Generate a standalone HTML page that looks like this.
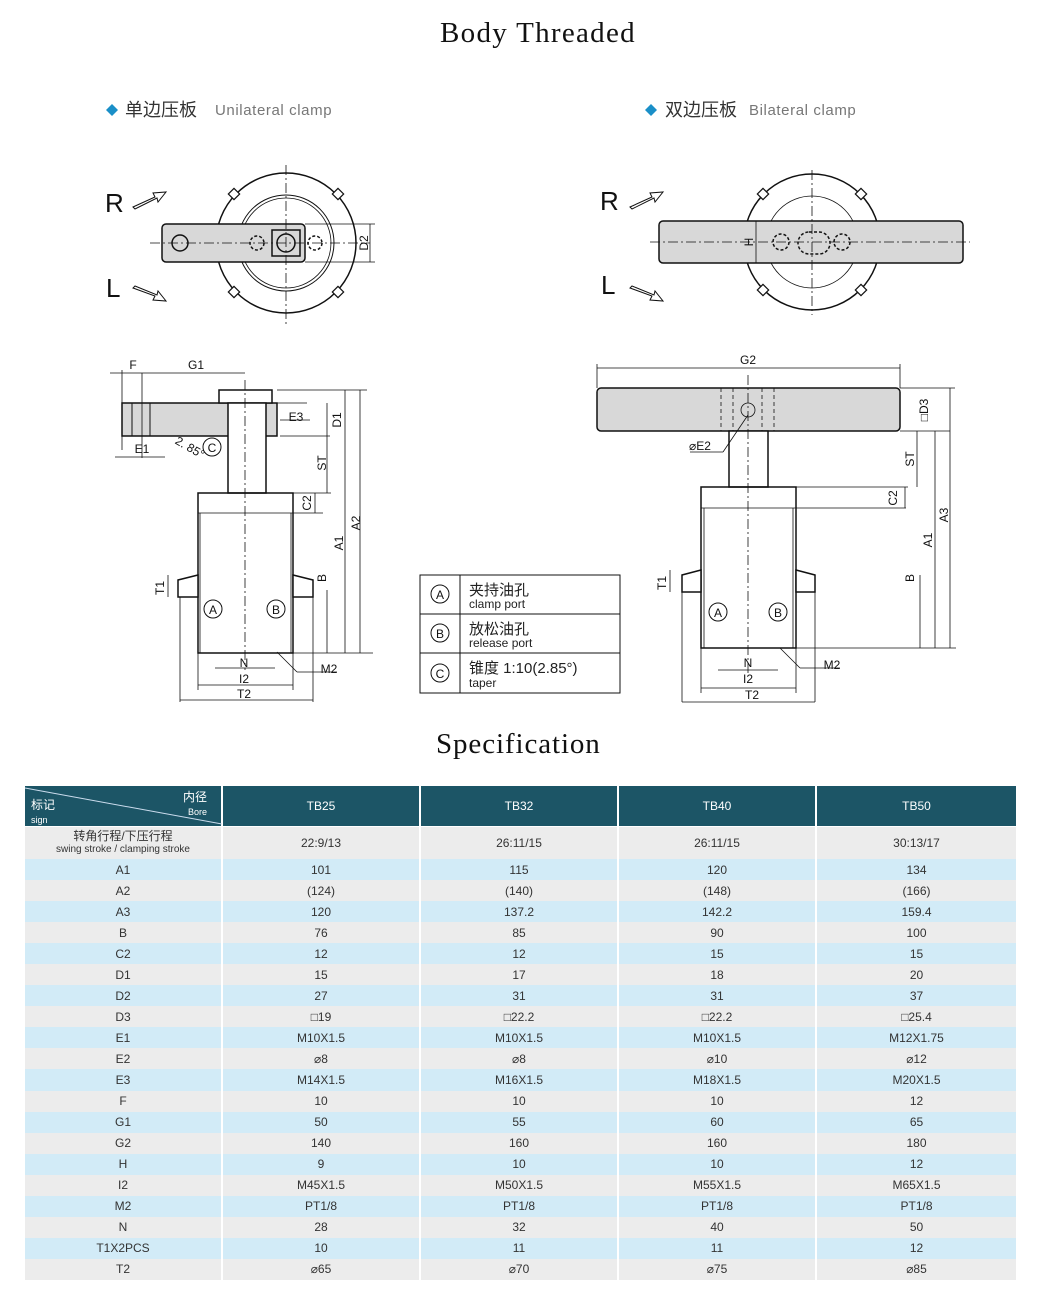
<!DOCTYPE html>
<html><head><meta charset="utf-8"><style>
body{margin:0;width:1039px;height:1297px;background:#fff;position:relative;font-family:"Liberation Sans","Noto Sans CJK SC",sans-serif;overflow:hidden}
.t{position:absolute;font-family:"Liberation Serif",serif;font-size:29px;color:#111}
table{position:absolute;left:23px;top:786px;border-collapse:collapse;table-layout:fixed;width:993px}
td{text-align:center;font-size:12px;color:#333;padding:0;border-left:2px solid #fff;border-right:2px solid #fff;height:21.05px;line-height:20px}
tr.h td{background:#1c5566;color:#fff;height:40px;font-size:12px;border-bottom:1px solid #fff}
tr.b td{background:#d2ebf7}
tr.g td{background:#ececec}
</style></head><body>
<div class="t" style="left:440px;top:17px;letter-spacing:1.3px">Body Threaded</div>
<div class="t" style="left:436px;top:728px;letter-spacing:0.9px">Specification</div>
<svg width="1039" height="780" style="position:absolute;left:0;top:0" font-family="Liberation Sans,Noto Sans CJK SC,sans-serif">
<g font-size="18" fill="#333">
<path d="M106 110l6-6 6 6-6 6z" fill="#1a8fc8"/><text x="125" y="116">单边压板</text><text x="215" y="115" font-size="15" fill="#777" letter-spacing="0.6">Unilateral clamp</text>
<path d="M645 110l6-6 6 6-6 6z" fill="#1a8fc8"/><text x="665" y="116">双边压板</text><text x="749" y="115" font-size="15" fill="#777" letter-spacing="0.6">Bilateral clamp</text>
</g>
<g stroke="#111" stroke-width="1.5" fill="none">
<circle cx="286" cy="243" r="70"/>
<g fill="#fff" stroke-width="1.2"><rect x="230" y="190" width="8" height="8" transform="rotate(45 234 194)"/><rect x="334" y="190" width="8" height="8" transform="rotate(45 338 194)"/><rect x="230" y="288" width="8" height="8" transform="rotate(45 234 292)"/><rect x="334" y="288" width="8" height="8" transform="rotate(45 338 292)"/></g>
<circle cx="286" cy="243" r="48" stroke-width="1"/>
<circle cx="286" cy="243" r="45" stroke-width="0.8"/>
<rect x="162" y="224" width="143" height="38" rx="4" fill="#d8d8d8"/>
<circle cx="180" cy="243" r="8"/>
<path d="M272 230h28v26h-28z" /><circle cx="286" cy="243" r="9"/>
<circle cx="257" cy="243" r="7" stroke-dasharray="3 2"/><circle cx="315" cy="243" r="7" stroke-dasharray="3 2"/>
<path d="M286 165v160M150 243h220" stroke-width="0.8" stroke-dasharray="10 3 2 3"/>
<path d="M305 224h70M305 262h70M370 224v38" stroke-width="0.8"/>
<circle cx="812" cy="242" r="68"/>
<g fill="#fff" stroke-width="1.2"><rect x="759" y="190" width="8" height="8" transform="rotate(45 763 194)"/><rect x="857" y="190" width="8" height="8" transform="rotate(45 861 194)"/><rect x="759" y="286" width="8" height="8" transform="rotate(45 763 290)"/><rect x="857" y="286" width="8" height="8" transform="rotate(45 861 290)"/></g>
<circle cx="812" cy="242" r="46" stroke-width="0.8"/>
<rect x="659" y="221" width="304" height="42" rx="4" fill="#d8d8d8"/>
<rect x="798" y="232" width="32" height="22" rx="11" stroke-dasharray="3 2"/>
<circle cx="781" cy="242" r="8" stroke-dasharray="3 2"/><circle cx="842" cy="242" r="8" stroke-dasharray="3 2"/>
<path d="M812 170v145M650 242h320" stroke-width="0.8" stroke-dasharray="10 3 2 3"/>
<path d="M756 221v42" stroke-width="0.8"/>
<path d="M133 207l22-10-2-4 13-1-8 10-1-4-22 11z M133 288l22 8-2 4 13 1-8-10-1 4-22-9z" stroke-width="1"/>
<path d="M630 207l22-10-2-4 13-1-8 10-1-4-22 11z M630 288l22 8-2 4 13 1-8-10-1 4-22-9z" stroke-width="1"/>
<rect x="122" y="403" width="155" height="33" fill="#d8d8d8"/>
<path d="M132 403v33M150 403v33" stroke-width="1"/>
<path d="M219 390h53v13h-53z" fill="#fff"/>
<path d="M228 403h38v90h-38z" fill="#fff"/>
<rect x="198" y="493" width="95" height="160"/>
<path d="M198 513h95M200 513v140M291 513v140" stroke-width="0.8"/>
<path d="M178 597v-17l20-5v22zM313 597v-17l-20-5v22z" fill="#fff"/>
<path d="M245 380v290" stroke-width="0.8" stroke-dasharray="10 3 2 3"/>
<path d="M110 373h135M142 373v85M122 370v80M115 457h50M277 390h90M277 403h30M280 436h50M266 493h65M293 513h30M293 653h80M345 390v263M327 403v33M327 436v57M315 493v20M327 590v63M360 390v263M310 420h-30M180 597v105M313 597v105M180 700h133M198 685h95M215 668h60M198 653v37M293 653v37M168 575v22M297 672l-20-20M297 672h40" stroke-width="0.8"/>
<rect x="597" y="388" width="303" height="43" rx="4" fill="#d8d8d8"/>
<path d="M721 388v43M733 388v43M762 388v43M774 388v43" stroke-dasharray="4 3" stroke-width="0.8"/>
<circle cx="748" cy="410" r="7" stroke-width="0.8"/>
<path d="M729 431h39v56h-39z" fill="#fff"/>
<rect x="701" y="487" width="95" height="161"/>
<path d="M701 508h95M704 508v140M793 508v140" stroke-width="0.8"/>
<path d="M682 592v-17l19-5v22zM815 592v-17l-19-5v22z" fill="#fff"/>
<path d="M748 375v300" stroke-width="0.8" stroke-dasharray="10 3 2 3"/>
<path d="M597 368h303M597 364v24M900 364v24M900 388h55M900 431h50M768 487h140M796 508h110M796 648h160M950 388v260M935 431v217M917 431v56M920 575v73M905 487v21M748 415l-25 37M690 452h33M682 592v110M815 592v110M682 702h133M701 688h95M718 670h60M701 648v45M796 648v45M670 570v22M800 668l-20-20M800 668h40" stroke-width="0.8"/>
<rect x="420" y="575" width="200" height="118" stroke-width="1"/>
<path d="M420 614h200M420 653h200M460 575v118" stroke-width="1"/>
<circle cx="440" cy="594" r="9" stroke-width="1"/><circle cx="440" cy="633" r="9" stroke-width="1"/><circle cx="440" cy="673" r="9" stroke-width="1"/>
<circle cx="213" cy="609" r="9" stroke-width="1"/><circle cx="276" cy="609" r="9" stroke-width="1"/><circle cx="212" cy="447" r="9" stroke-width="1"/>
<circle cx="718" cy="612" r="9" stroke-width="1"/><circle cx="778" cy="612" r="9" stroke-width="1"/>
</g>
<g fill="#111" font-size="26"><text x="105" y="212">R</text><text x="106" y="297">L</text><text x="600" y="210">R</text><text x="601" y="294">L</text></g>
<g fill="#111" font-size="12" text-anchor="middle">
<text x="440" y="599">A</text><text x="440" y="638">B</text><text x="440" y="678">C</text>
<text x="213" y="614">A</text><text x="276" y="614">B</text><text x="212" y="452">C</text>
<text x="718" y="617">A</text><text x="778" y="617">B</text>
<text x="133" y="369">F</text><text x="196" y="369">G1</text><text x="142" y="453">E1</text><text x="296" y="421">E3</text>
<text x="244" y="667">N</text><text x="244" y="683">I2</text><text x="244" y="698">T2</text><text x="329" y="673">M2</text>
<text x="748" y="364">G2</text><text x="700" y="450">⌀E2</text>
<text x="748" y="667">N</text><text x="748" y="683">I2</text><text x="752" y="699">T2</text><text x="832" y="669">M2</text>
<text x="186" y="458" transform="rotate(30 200 458)">2. 85°</text>
</g>
<g fill="#111" font-size="12" text-anchor="middle">
<text transform="translate(368 243) rotate(-90)">D2</text><text transform="translate(753 242) rotate(-90)">H</text>
<text transform="translate(341 420) rotate(-90)">D1</text><text transform="translate(326 463) rotate(-90)">ST</text>
<text transform="translate(311 503) rotate(-90)">C2</text><text transform="translate(343 543) rotate(-90)">A1</text>
<text transform="translate(360 523) rotate(-90)">A2</text><text transform="translate(326 578) rotate(-90)">B</text>
<text transform="translate(164 588) rotate(-90)">T1</text>
<text transform="translate(928 410) rotate(-90)">□D3</text><text transform="translate(914 459) rotate(-90)">ST</text>
<text transform="translate(897 498) rotate(-90)">C2</text><text transform="translate(932 540) rotate(-90)">A1</text>
<text transform="translate(948 515) rotate(-90)">A3</text><text transform="translate(914 578) rotate(-90)">B</text>
<text transform="translate(666 583) rotate(-90)">T1</text>
</g>
<g fill="#222">
<text x="469" y="595" font-size="15">夹持油孔</text><text x="469" y="608" font-size="12">clamp port</text>
<text x="469" y="634" font-size="15">放松油孔</text><text x="469" y="647" font-size="12">release port</text>
<text x="469" y="673" font-size="15">锥度 1:10(2.85°)</text><text x="469" y="687" font-size="12">taper</text>
</g>
</svg>
<table>
<colgroup><col style="width:198px"><col style="width:198px"><col style="width:198px"><col style="width:198px"><col style="width:201px"></colgroup>
<tr class="h"><td style="position:relative;text-align:left"><svg width="197" height="40" style="position:absolute;left:0;top:0"><line x1="0" y1="2" x2="197" y2="38" stroke="#cde" stroke-width="1"/></svg><span style="position:absolute;left:6px;top:12px;font-size:12px;line-height:14px">标记<br><span style="font-size:9px">sign</span></span><span style="position:absolute;right:14px;top:4px;font-size:12px;line-height:14px;text-align:right">内径<br><span style="font-size:9px">Bore</span></span></td><td>TB25</td><td>TB32</td><td>TB40</td><td>TB50</td></tr>
<tr class="g"><td style="height:32px;line-height:12px">转角行程/下压行程<br><span style="font-size:10px">swing stroke / clamping stroke</span></td><td>22:9/13</td><td>26:11/15</td><td>26:11/15</td><td>30:13/17</td></tr>
<tr class="b"><td>A1</td><td>101</td><td>115</td><td>120</td><td>134</td></tr>
<tr class="g"><td>A2</td><td>(124)</td><td>(140)</td><td>(148)</td><td>(166)</td></tr>
<tr class="b"><td>A3</td><td>120</td><td>137.2</td><td>142.2</td><td>159.4</td></tr>
<tr class="g"><td>B</td><td>76</td><td>85</td><td>90</td><td>100</td></tr>
<tr class="b"><td>C2</td><td>12</td><td>12</td><td>15</td><td>15</td></tr>
<tr class="g"><td>D1</td><td>15</td><td>17</td><td>18</td><td>20</td></tr>
<tr class="b"><td>D2</td><td>27</td><td>31</td><td>31</td><td>37</td></tr>
<tr class="g"><td>D3</td><td>□19</td><td>□22.2</td><td>□22.2</td><td>□25.4</td></tr>
<tr class="b"><td>E1</td><td>M10X1.5</td><td>M10X1.5</td><td>M10X1.5</td><td>M12X1.75</td></tr>
<tr class="g"><td>E2</td><td>⌀8</td><td>⌀8</td><td>⌀10</td><td>⌀12</td></tr>
<tr class="b"><td>E3</td><td>M14X1.5</td><td>M16X1.5</td><td>M18X1.5</td><td>M20X1.5</td></tr>
<tr class="g"><td>F</td><td>10</td><td>10</td><td>10</td><td>12</td></tr>
<tr class="b"><td>G1</td><td>50</td><td>55</td><td>60</td><td>65</td></tr>
<tr class="g"><td>G2</td><td>140</td><td>160</td><td>160</td><td>180</td></tr>
<tr class="b"><td>H</td><td>9</td><td>10</td><td>10</td><td>12</td></tr>
<tr class="g"><td>I2</td><td>M45X1.5</td><td>M50X1.5</td><td>M55X1.5</td><td>M65X1.5</td></tr>
<tr class="b"><td>M2</td><td>PT1/8</td><td>PT1/8</td><td>PT1/8</td><td>PT1/8</td></tr>
<tr class="g"><td>N</td><td>28</td><td>32</td><td>40</td><td>50</td></tr>
<tr class="b"><td>T1X2PCS</td><td>10</td><td>11</td><td>11</td><td>12</td></tr>
<tr class="g"><td>T2</td><td>⌀65</td><td>⌀70</td><td>⌀75</td><td>⌀85</td></tr>
</table>
</body></html>
